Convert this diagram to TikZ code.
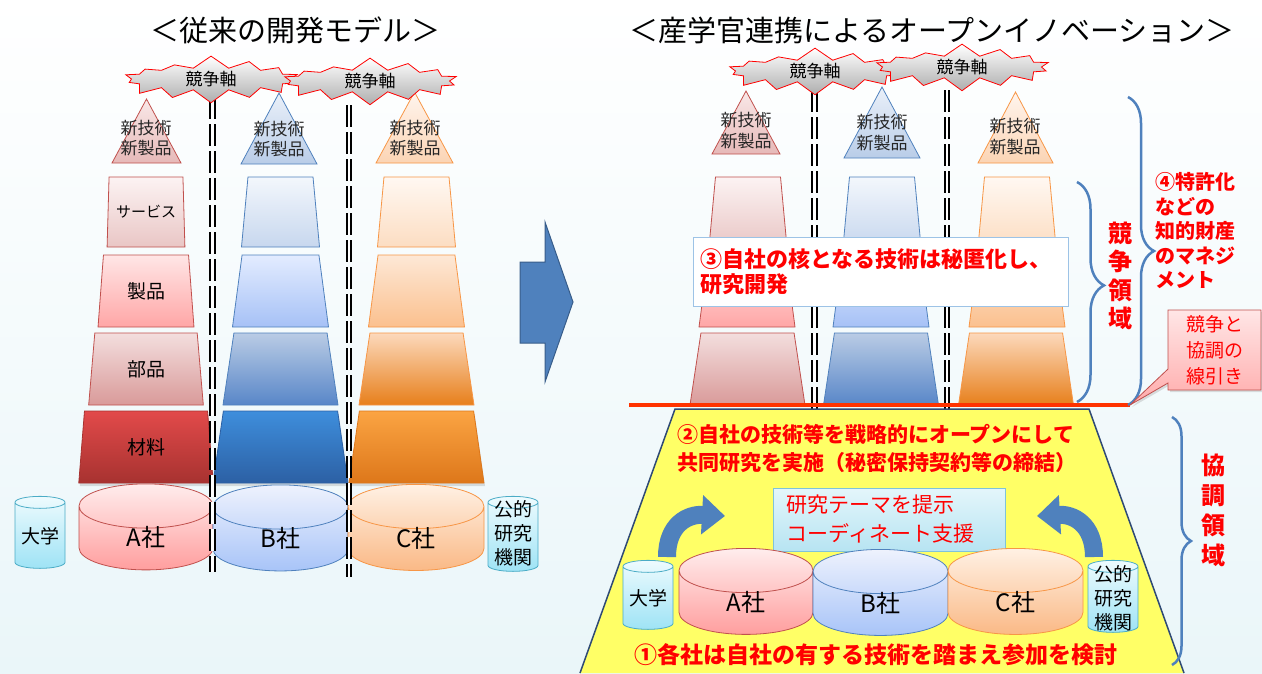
\documentclass[tikz,border=0pt]{standalone}
\usepackage{fontspec}
\setmainfont{Noto Sans CJK JP}
\usepackage{tikz}
\usepackage{xcolor}
\usetikzlibrary{positioning, shapes.geometric, shapes.symbols, shapes.callouts}
\usetikzlibrary{decorations.pathreplacing, shadows, arrows.meta}

\definecolor{redEdge}{HTML}{C0504D}
\definecolor{blueEdge}{HTML}{4F81BD}
\definecolor{orangeEdge}{HTML}{F79646}
\definecolor{cyanEdge}{HTML}{4BACC6}
\definecolor{cutRed}{HTML}{FF3300}
\definecolor{pageBottom}{HTML}{EAF6F9}
\definecolor{arrowFill}{HTML}{4F81BD}
\definecolor{arrowEdge}{HTML}{385D8A}
\definecolor{yellowArea}{HTML}{FFFF66}
\definecolor{yellowEdge}{HTML}{2F4A75}
\definecolor{boxEdge}{HTML}{9DC3E6}
\definecolor{themeTop}{HTML}{E4F6FB}
\definecolor{themeBottom}{HTML}{B7E4F2}
\definecolor{themeEdge}{HTML}{7FC3DA}
% column A (red)
\definecolor{aTri1}{HTML}{F9E8E8}\definecolor{aTri2}{HTML}{E6B9B8}
\definecolor{aOne1}{HTML}{FCF3F3}\definecolor{aOne2}{HTML}{E9C6C5}
\definecolor{aTwo1}{HTML}{FFE6E6}\definecolor{aTwo2}{HTML}{FFA6A6}
\definecolor{aThree1}{HTML}{F3DEDE}\definecolor{aThree2}{HTML}{D99A99}
\definecolor{aFour1}{HTML}{E24A4A}\definecolor{aFour2}{HTML}{A73230}
\definecolor{aDrum1}{HTML}{FFEDED}\definecolor{aDrum2}{HTML}{FF9E9E}
% column B (blue)
\definecolor{bTri1}{HTML}{EAF0F9}\definecolor{bTri2}{HTML}{B9CDE8}
\definecolor{bOne1}{HTML}{F3F7FC}\definecolor{bOne2}{HTML}{C7D7EE}
\definecolor{bTwo1}{HTML}{E3ECFF}\definecolor{bTwo2}{HTML}{A6C1F6}
\definecolor{bThree1}{HTML}{BACCE5}\definecolor{bThree2}{HTML}{5886C8}
\definecolor{bFour1}{HTML}{3E8EDC}\definecolor{bFour2}{HTML}{2C60A4}
\definecolor{bDrum1}{HTML}{EEF2FD}\definecolor{bDrum2}{HTML}{A8C4F8}
% column C (orange)
\definecolor{cTri1}{HTML}{FFF5EE}\definecolor{cTri2}{HTML}{FBD4B4}
\definecolor{cOne1}{HTML}{FFF8F2}\definecolor{cOne2}{HTML}{FCDDC2}
\definecolor{cTwo1}{HTML}{FDE8D6}\definecolor{cTwo2}{HTML}{FBC08E}
\definecolor{cThree1}{HTML}{FCD9BC}\definecolor{cThree2}{HTML}{E77F1B}
\definecolor{cFour1}{HTML}{FBA443}\definecolor{cFour2}{HTML}{DD771A}
\definecolor{cDrum1}{HTML}{FFF1E4}\definecolor{cDrum2}{HTML}{FAB986}
% universities, institutes
\definecolor{uDrum1}{HTML}{EEFBFE}\definecolor{uDrum2}{HTML}{9EE3F5}
\definecolor{callTop}{HTML}{FFE6E6}\definecolor{callBottom}{HTML}{FFABAB}

\begin{document}
\begin{tikzpicture}[
            x=1pt, y=-1pt,
            every node/.style={inner sep=0pt, outer sep=0pt},
            headline/.style={font=\fontsize{29}{34}\selectfont},
            burst/.style={starburst, draw=red, line width=0.8pt, top color=white, bottom color=black!32,
                starburst points=14, starburst point height=13pt, random starburst=7,
                minimum width=185pt, minimum height=38pt, font=\fontsize{17}{20}\selectfont},
            divider/.style={draw=black, line width=2pt, double=white, double distance=2.5pt,
                dash pattern=on 22pt off 5pt},
            tri/.style={isosceles triangle, isosceles triangle stretches, shape border rotate=90,
                anchor=south, line width=0.8pt, inner sep=2pt},
            newtech/.style={align=center, text=black!85, font=\fontsize{17}{20}\selectfont},
            tier/.style={trapezium, trapezium stretches, line width=0.8pt, inner sep=2pt,
                font=\fontsize{19}{22}\selectfont},
            levone/.style={tier, minimum width=78pt, minimum height=70pt, trapezium angle=84.3},
            levtwo/.style={tier, minimum width=96pt, minimum height=72pt, trapezium angle=82.9},
            levthree/.style={tier, minimum width=115pt, minimum height=72pt, trapezium angle=83.3},
            levfour/.style={tier, minimum width=135pt, minimum height=72pt, trapezium angle=84.8,
                drop shadow={opacity=0.25, shadow xshift=1pt, shadow yshift=-3pt}},
            drum/.style={cylinder, shape border rotate=90, shape aspect=1.3, line width=0.8pt,
                inner sep=17pt},
            smalldrum/.style={drum, shape aspect=1, inner sep=6pt, draw=cyanEdge,
                top color=uDrum1, bottom color=uDrum2, minimum width=50pt},
            drumname/.style={font=\fontsize{24}{28}\selectfont},
            smallname/.style={align=center, font=\fontsize{19}{24}\selectfont},
            redtext/.style={text=red, font=\bfseries\fontsize{21}{28}\selectfont, align=left},
            bracebl/.style={draw=blueEdge, line width=2.5pt, decorate},
            bendarrow/.style={draw=arrowFill, line width=18pt, -{Triangle[width=38pt, length=23pt]}},
        ]
            \useasboundingbox (0,0) rectangle (1262,673);
            \shade[top color=white, bottom color=pageBottom] (0,0) rectangle (1262,673);

            % ---- left: conventional model
            \node[headline] (titleOld) at (295,30) {＜従来の開発モデル＞};

            \node[tri, draw=redEdge, top color=aTri1, bottom color=aTri2,
                minimum width=69pt, minimum height=64pt] (triA) at (146.5,163) {};
            \node[tri, draw=blueEdge, top color=bTri1, bottom color=bTri2,
                minimum width=76pt, minimum height=71pt] (triB) at (279,164) {};
            \node[tri, draw=orangeEdge, top color=cTri1, bottom color=cTri2,
                minimum width=77pt, minimum height=71pt] (triC) at (414.5,163) {};
            \node[newtech] (techA) at (146,138.5) {新技術\\新製品};
            \node[newtech] (techB) at (279,139) {新技術\\新製品};
            \node[newtech] (techC) at (415,138.5) {新技術\\新製品};

            \node[levone, draw=redEdge, top color=aOne1, bottom color=aOne2,
                font=\fontsize{15}{18}\selectfont] (svcA) at (146,212) {サービス};
            \node[levone, draw=blueEdge, top color=bOne1, bottom color=bOne2] (svcB) at (280.5,212) {};
            \node[levone, draw=orangeEdge, top color=cOne1, bottom color=cOne2] (svcC) at (416.5,212) {};
            \node[levtwo, draw=redEdge, top color=aTwo1, bottom color=aTwo2] (prodA) at (146,291) {製品};
            \node[levtwo, draw=blueEdge, top color=bTwo1, bottom color=bTwo2] (prodB) at (280.5,291) {};
            \node[levtwo, draw=orangeEdge, top color=cTwo1, bottom color=cTwo2] (prodC) at (416.5,291) {};
            \node[levthree, draw=redEdge, top color=aThree1, bottom color=aThree2] (partA) at (146,369) {部品};
            \node[levthree, draw=blueEdge, top color=bThree1, bottom color=bThree2] (partB) at (280.5,369) {};
            \node[levthree, draw=orangeEdge, top color=cThree1, bottom color=cThree2] (partC) at (416.5,369) {};
            \node[levfour, draw=aFour2, top color=aFour1, bottom color=aFour2] (matA) at (146,447) {材料};
            \node[levfour, draw=bFour2, top color=bFour1, bottom color=bFour2] (matB) at (280.5,447) {};
            \node[levfour, draw=cFour2, top color=cFour1, bottom color=cFour2] (matC) at (416.5,447) {};

            \node[smalldrum, minimum height=72pt] (uniOld) at (40,537.5) {};
            \node[drum, draw=redEdge, top color=aDrum1, bottom color=aDrum2,
                minimum width=134pt, minimum height=79pt] (drumA) at (146,545.5) {};
            \node[drum, draw=blueEdge, top color=bDrum1, bottom color=bDrum2,
                minimum width=135pt, minimum height=79pt] (drumB) at (280.5,546.5) {};
            \node[drum, draw=orangeEdge, top color=cDrum1, bottom color=cDrum2,
                minimum width=136pt, minimum height=79pt] (drumC) at (416,546) {};
            \node[smalldrum, minimum height=75pt] (instOld) at (513,539) {};
            \node[smallname] (uniOldName) at ([yshift=1.5pt]uniOld.center) {大学};
            \node[drumname] (nameA) at ([yshift=8pt]drumA.center) {A社};
            \node[drumname] (nameB) at ([yshift=8pt]drumB.center) {B社};
            \node[drumname] (nameC) at ([yshift=8pt]drumC.center) {C社};
            \node[smallname] (instOldName) at ([yshift=5.5pt]instOld.center) {公的\\研究\\機関};

            \coordinate (cutOldTop1) at (212.5,97);
            \coordinate (cutOldBot1) at (212.5,572);
            \coordinate (cutOldTop2) at (349,105);
            \coordinate (cutOldBot2) at (349,577);
            \draw[divider] (cutOldTop1) -- (cutOldBot1);
            \draw[divider] (cutOldTop2) -- (cutOldBot2);

            \node[burst] (axisOld1) at (211,79) {競争軸};
            \node[burst] (axisOld2) at (370,81) {競争軸};

            % ---- arrow between the two models
            \draw[fill=arrowFill, draw=arrowEdge, line width=1pt]
                (520,262) -- (545,262) -- (545,222) -- (573,302) -- (545,382) -- (545,343) -- (520,343) -- cycle;

            % ---- right: open innovation
            \node[headline] (titleNew) at (932,30) {＜産学官連携によるオープンイノベーション＞};

            \node[tri, draw=redEdge, top color=aTri1, bottom color=aTri2,
                minimum width=68pt, minimum height=63pt] (triNewA) at (746,154) {};
            \node[tri, draw=blueEdge, top color=bTri1, bottom color=bTri2,
                minimum width=76pt, minimum height=71pt] (triNewB) at (882,158) {};
            \node[tri, draw=orangeEdge, top color=cTri1, bottom color=cTri2,
                minimum width=75pt, minimum height=71pt] (triNewC) at (1015.5,163) {};
            \node[newtech, font=\fontsize{17}{21}\selectfont] (techNewA) at (746,131) {新技術\\新製品};
            \node[newtech, font=\fontsize{17}{21}\selectfont] (techNewB) at (882,132.5) {新技術\\新製品};
            \node[newtech, font=\fontsize{17}{21}\selectfont] (techNewC) at (1015,136.5) {新技術\\新製品};

            \node[levone, draw=redEdge, top color=aOne1, bottom color=aOne2] (svcNewA) at (748,212) {};
            \node[levone, draw=blueEdge, top color=bOne1, bottom color=bOne2] (svcNewB) at (882,212) {};
            \node[levone, draw=orangeEdge, top color=cOne1, bottom color=cOne2] (svcNewC) at (1017,212) {};
            \node[levtwo, draw=redEdge, top color=aTwo1, bottom color=aTwo2] (prodNewA) at (747,291) {};
            \node[levtwo, draw=blueEdge, top color=bTwo1, bottom color=bTwo2] (prodNewB) at (881,291) {};
            \node[levtwo, draw=orangeEdge, top color=cTwo1, bottom color=cTwo2] (prodNewC) at (1017,291) {};
            \node[levthree, draw=redEdge, top color=aThree1, bottom color=aThree2] (partNewA) at (747.5,369) {};
            \node[levthree, draw=blueEdge, top color=bThree1, bottom color=bThree2] (partNewB) at (881,369) {};
            \node[levthree, draw=orangeEdge, top color=cThree1, bottom color=cThree2] (partNewC) at (1016,369) {};

            \coordinate (cutNewTop1) at (814.5,90);
            \coordinate (cutNewBot1) at (814.5,418);
            \coordinate (cutNewTop2) at (947,90);
            \coordinate (cutNewBot2) at (947,418);
            \draw[divider] (cutNewTop1) -- (cutNewBot1);
            \draw[divider] (cutNewTop2) -- (cutNewBot2);

            \node[burst] (axisNew1) at (815,71) {競争軸};
            \node[burst] (axisNew2) at (962,67) {競争軸};

            \node[draw=boxEdge, fill=white, line width=0.8pt, minimum width=375pt, minimum height=69pt,
                text width=360pt, redtext, font=\bfseries\fontsize{22}{25}\selectfont]
                (secretBox) at (880.5,271.5) {③自社の核となる技術は秘匿化し、\\研究開発};

            % cooperative area
            \fill[yellowArea] (675,409) -- (1089,409) -- (1184,673) -- (580,673) -- cycle;
            \draw[yellowEdge, line width=1.5pt] (580,673) -- (675,409) -- (1089,409) -- (1184,673);

            \coordinate (cutL) at (629,405);
            \coordinate (cutR) at (1130,405);
            \draw[cutRed, line width=4pt] (cutL) -- (cutR);

            \node[redtext, anchor=west] (openText) at (677,448)
                {②自社の技術等を戦略的にオープンにして\\共同研究を実施（秘密保持契約等の締結）};

            \node[draw=themeEdge, line width=0.8pt, top color=themeTop, bottom color=themeBottom,
                minimum width=232pt, minimum height=63pt, text width=205pt, align=left, text=red,
                font=\fontsize{21}{29}\selectfont] (themeBox) at (889,519.5)
                {研究テーマを提示\\コーディネート支援};

            \node[smalldrum, minimum height=69pt] (uniNew) at (648,600) {};
            \node[drum, draw=redEdge, top color=aDrum1, bottom color=aDrum2,
                minimum width=134pt, minimum height=78pt] (drumNewA) at (746,610) {};
            \node[drum, draw=blueEdge, top color=bDrum1, bottom color=bDrum2,
                minimum width=135pt, minimum height=78pt] (drumNewB) at (880.5,611) {};
            \node[drum, draw=orangeEdge, top color=cDrum1, bottom color=cDrum2,
                minimum width=135pt, minimum height=78pt] (drumNewC) at (1015.5,610) {};
            \node[smalldrum, minimum height=72pt] (instNew) at (1113,601.5) {};
            \node[smallname] (uniNewName) at ([yshift=2pt]uniNew.center) {大学};
            \node[drumname] (nameNewA) at ([yshift=8pt]drumNewA.center) {A社};
            \node[drumname] (nameNewB) at ([yshift=8pt]drumNewB.center) {B社};
            \node[drumname] (nameNewC) at ([yshift=8pt]drumNewC.center) {C社};
            \node[smallname] (instNewName) at ([yshift=3.5pt]instNew.center) {公的\\研究\\機関};

            \coordinate (uniFoot) at (667,557);
            \coordinate (uniHead) at (725,516);
            \coordinate (instFoot) at (1094,557);
            \coordinate (instHead) at (1037,516);
            \draw[bendarrow] (uniFoot) .. controls (667,524) and (688,514) .. (uniHead);
            \draw[bendarrow] (instFoot) .. controls (1094,524) and (1073,514) .. (instHead);

            \node[redtext, font=\bfseries\fontsize{23}{28}\selectfont] (joinText) at (876,655)
                {①各社は自社の有する技術を踏まえ参加を検討};

            % braces and side notes
            \draw[bracebl, decoration={brace, amplitude=27pt, aspect=0.47}] (1077,182) -- (1077,402);
            \draw[bracebl, decoration={brace, amplitude=26pt, aspect=0.5}] (1128,97) -- (1128,405);
            \draw[bracebl, decoration={brace, amplitude=19pt, aspect=0.5}] (1172,417) -- (1172,665);

            \node[redtext, align=center, font=\bfseries\fontsize{24}{28.5}\selectfont]
                (competeZone) at (1120,276) {競\\争\\領\\域};
            \node[redtext, anchor=west, font=\bfseries\fontsize{20}{24.5}\selectfont]
                (patentText) at (1155,231) {④特許化\\などの\\知的財産\\のマネジ\\メント};
            \node[redtext, align=center, font=\bfseries\fontsize{24}{30}\selectfont]
                (coopZone) at (1213,510) {協\\調\\領\\域};

            \node[rectangle callout, callout absolute pointer={(cutR)}, callout pointer width=14pt,
                draw=redEdge, line width=0.8pt, top color=callTop, bottom color=callBottom,
                minimum width=93pt, minimum height=80pt, align=center, text=red,
                font=\fontsize{19}{26}\selectfont,
                drop shadow={opacity=0.25, shadow xshift=2pt, shadow yshift=-2pt}]
                (lineNote) at (1214.5,350) {競争と\\協調の\\線引き};
        \end{tikzpicture}
\end{document}
